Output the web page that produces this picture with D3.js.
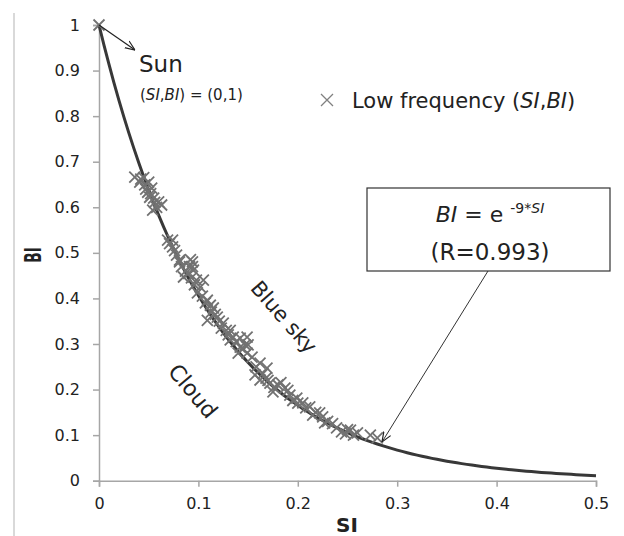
<!DOCTYPE html>
<html>
<head>
<meta charset="utf-8">
<script src="https://cdnjs.cloudflare.com/ajax/libs/d3/7.8.5/d3.min.js"></script>
<style>
body { margin:0; background:#fff; }
svg { font-family: "DejaVu Sans", sans-serif; }
</style>
</head>
<body>
<script>
// values
var siVals = [0, 0.036, 0.041, 0.046, 0.049, 0.053, 0.051, 0.056, 0.063, 0.054, 0.069, 0.074, 0.074,
  0.078, 0.081, 0.094, 0.081, 0.095, 0.085, 0.102, 0.099, 0.109, 0.115, 0.119, 0.109, 0.125,
  0.132, 0.135, 0.149, 0.142, 0.150, 0.149, 0.132, 0.142, 0.147, 0.154, 0.162, 0.169, 0.162,
  0.157, 0.172, 0.180, 0.187, 0.175, 0.192, 0.199, 0.205, 0.212, 0.222, 0.215, 0.227, 0.239,
  0.244, 0.253, 0.256, 0.273, 0.280, 0.094, 0.090, 0.105,
  0.042, 0.047, 0.050, 0.052, 0.055, 0.058, 0.045, 0.060,
  0.071, 0.076, 0.083, 0.087, 0.091, 0.093, 0.096, 0.098, 0.092,
  0.104, 0.107, 0.112, 0.113, 0.117, 0.121, 0.123, 0.128, 0.130, 0.138, 0.145, 0.140,
  0.158, 0.165, 0.168, 0.170, 0.176, 0.183, 0.190, 0.195, 0.200, 0.208, 0.218, 0.225,
  0.230, 0.235, 0.248, 0.250, 0.260];
var biVals = [1, 0.666, 0.655, 0.649, 0.633, 0.642, 0.622, 0.611, 0.605, 0.594, 0.528, 0.513, 0.528,
  0.495, 0.480, 0.480, 0.484, 0.462, 0.447, 0.425, 0.412, 0.396, 0.379, 0.359, 0.352, 0.346,
  0.330, 0.315, 0.315, 0.293, 0.298, 0.280, 0.309, 0.313, 0.298, 0.271, 0.258, 0.247, 0.221,
  0.232, 0.214, 0.210, 0.203, 0.195, 0.188, 0.181, 0.171, 0.162, 0.149, 0.144, 0.127, 0.116,
  0.107, 0.111, 0.100, 0.100, 0.094, 0.470, 0.455, 0.440,
  0.662, 0.640, 0.655, 0.630, 0.620, 0.600, 0.665, 0.612,
  0.520, 0.505, 0.470, 0.460, 0.470, 0.445, 0.430, 0.440, 0.485,
  0.405, 0.390, 0.385, 0.370, 0.365, 0.350, 0.335, 0.330, 0.320, 0.305, 0.290, 0.280,
  0.250, 0.235, 0.225, 0.220, 0.205, 0.215, 0.198, 0.176, 0.170, 0.160, 0.150, 0.140,
  0.130, 0.125, 0.103, 0.112, 0.105];
var xTicks = [0, 0.1, 0.2, 0.3, 0.4, 0.5];
var yTicks = [0, 0.1, 0.2, 0.3, 0.4, 0.5, 0.6, 0.7, 0.8, 0.9, 1];
var fitK = -9; // BI = e^(-9*SI)

var w = 624, h = 536;
var svg = d3.select("body").append("svg").attr("width", w).attr("height", h);

var x = d3.scaleLinear().domain([0, 0.5]).range([99, 596]);
var y = d3.scaleLinear().domain([0, 1]).range([480.7, 25]);

// chart area edge
svg.append("line").attr("x1", 14).attr("x2", 14).attr("y1", 13).attr("y2", h)
  .attr("stroke", "#d9d9d9").attr("stroke-width", 2);

var defs = svg.append("defs");
defs.append("marker").attr("id", "arr").attr("viewBox", "0 0 10 10")
  .attr("refX", 10).attr("refY", 5).attr("markerWidth", 10).attr("markerHeight", 10)
  .attr("markerUnits", "userSpaceOnUse").attr("orient", "auto")
  .append("path").attr("d", "M0,1L10,5L0,9").attr("fill", "none").attr("stroke", "#222").attr("stroke-width", 1.2);

var gx = svg.append("g").attr("transform", "translate(0,480.7)")
  .call(d3.axisBottom(x).tickValues(xTicks).tickSize(6).tickPadding(11).tickFormat(d3.format("")));
var gy = svg.append("g").attr("transform", "translate(99,0)")
  .call(d3.axisLeft(y).tickValues(yTicks).tickSize(6).tickPadding(13).tickFormat(d3.format("")));
[gx, gy].forEach(function(g){
  g.select(".domain").attr("stroke", "#a6a6a6").attr("stroke-width", 1.5);
  g.selectAll(".tick line").attr("stroke", "#a6a6a6").attr("stroke-width", 1.5);
  g.selectAll(".tick text").attr("fill", "#222").style("font-size", "16px").style("font-family", "'DejaVu Sans', sans-serif");
});

svg.append("text").attr("x", 347).attr("y", 532).attr("text-anchor", "middle")
  .style("font-size", "20px").style("font-weight", "bold").attr("fill", "#222").text("SI");
svg.append("text").attr("transform", "translate(41,255) rotate(-90) scale(0.8,1.35)").attr("text-anchor", "middle")
  .style("font-size", "17px").style("font-weight", "bold").attr("fill", "#222").text("BI");

// fitted curve
var curveX = d3.range(0, 0.5001, 0.005);
svg.append("path").datum(curveX)
  .attr("d", d3.line().x(function(d){ return x(d); }).y(function(d){ return y(Math.exp(fitK * d)); }))
  .attr("fill", "none").attr("stroke", "#383838").attr("stroke-width", 3);

// scatter
var xMark = "M-5.5,-5.5L5.5,5.5M5.5,-5.5L-5.5,5.5";
svg.selectAll(".pt").data(siVals).enter().append("path").attr("class", "pt")
  .attr("transform", function(d, i){ return "translate(" + x(d) + "," + y(biVals[i]) + ")"; })
  .attr("d", xMark).attr("stroke", "#727272").attr("stroke-width", 1.8).attr("fill", "none");

// legend
svg.append("path").attr("transform", "translate(327,100)").attr("d", "M-6,-6L6,6M6,-6L-6,6")
  .attr("stroke", "#808080").attr("stroke-width", 1.3);
var lg = svg.append("text").attr("x", 352).attr("y", 108).style("font-size", "21px").attr("fill", "#222");
lg.append("tspan").text("Low frequency (");
lg.append("tspan").style("font-style", "italic").text("SI");
lg.append("tspan").text(",");
lg.append("tspan").style("font-style", "italic").text("BI");
lg.append("tspan").text(")");

// Sun annotation
svg.append("line").attr("x1", x(0)).attr("y1", y(1)).attr("x2", 135).attr("y2", 50)
  .attr("stroke", "#222").attr("stroke-width", 1.2).attr("marker-end", "url(#arr)");
svg.append("text").attr("x", 139).attr("y", 72).style("font-size", "23px").attr("fill", "#222").text("Sun");
var st = svg.append("text").attr("x", 140).attr("y", 100).style("font-size", "15px").attr("fill", "#222");
st.append("tspan").text("(");
st.append("tspan").style("font-style", "italic").text("SI");
st.append("tspan").text(",");
st.append("tspan").style("font-style", "italic").text("BI");
st.append("tspan").text(") = (0,1)");

// region labels
svg.append("text").attr("transform", "translate(284,317) rotate(49)").attr("text-anchor", "middle")
  .attr("dy", "0.35em").style("font-size", "21px").attr("fill", "#222").text("Blue sky");
svg.append("text").attr("transform", "translate(193,391) rotate(50)").attr("text-anchor", "middle")
  .attr("dy", "0.35em").style("font-size", "22px").attr("fill", "#222").text("Cloud");

// equation box
svg.append("line").attr("x1", 488).attr("y1", 271).attr("x2", 382).attr("y2", 442)
  .attr("stroke", "#333").attr("stroke-width", 1).attr("marker-end", "url(#arr)");
svg.append("rect").attr("x", 367).attr("y", 188).attr("width", 243).attr("height", 83)
  .attr("fill", "#fff").attr("stroke", "#333").attr("stroke-width", 1.2);
var eq = svg.append("text").attr("x", 490).attr("y", 222).attr("text-anchor", "middle")
  .style("font-size", "22px").attr("fill", "#222");
eq.append("tspan").style("font-style", "italic").text("BI");
eq.append("tspan").text(" = e ");
eq.append("tspan").attr("dy", -9).style("font-size", "14px").text("-9*");
eq.append("tspan").style("font-size", "14px").style("font-style", "italic").text("SI");
svg.append("text").attr("x", 490).attr("y", 260).attr("text-anchor", "middle")
  .style("font-size", "23px").attr("fill", "#222").text("(R=0.993)");
</script>
</body>
</html>
